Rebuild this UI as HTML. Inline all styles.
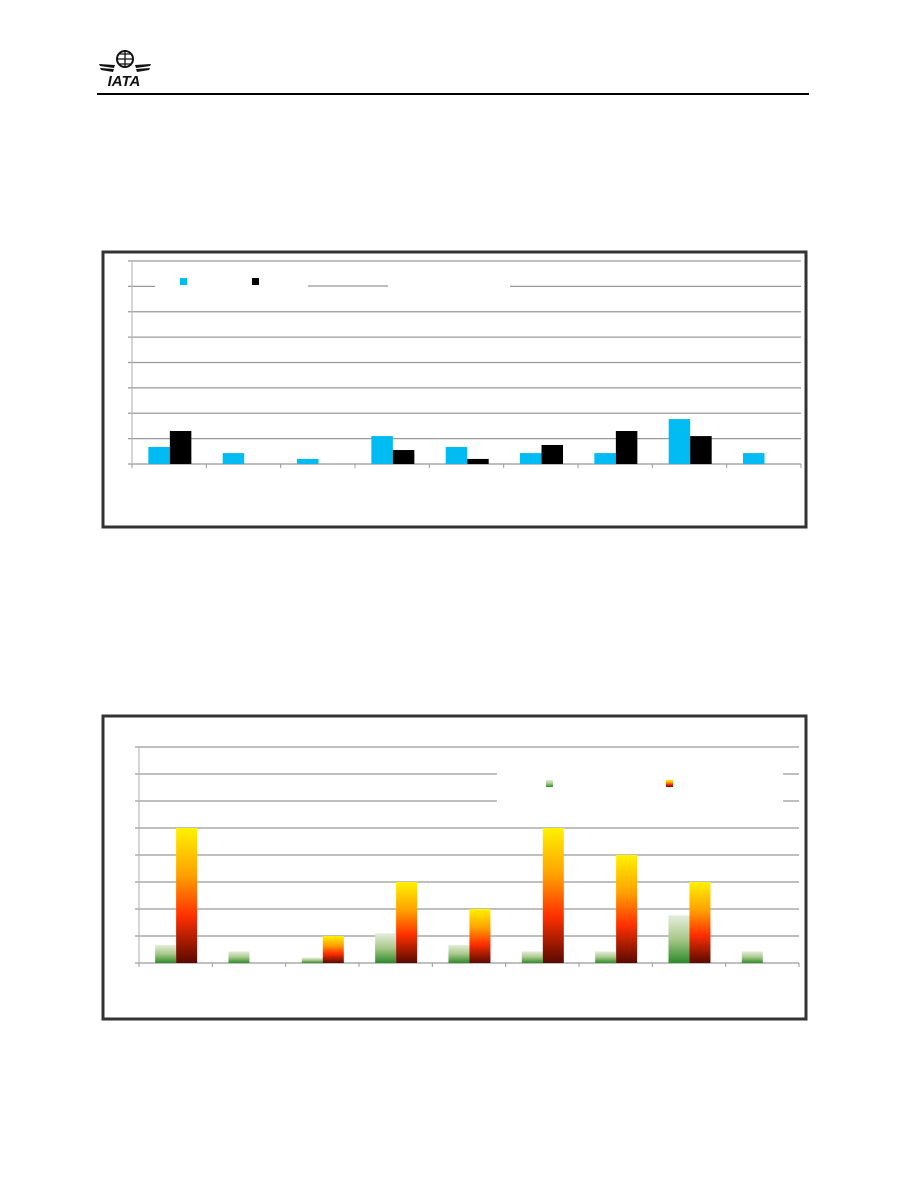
<!DOCTYPE html>
<html><head><meta charset="utf-8"><style>
body{margin:0;background:#fff;font-family:"Liberation Sans",sans-serif;}
#page{position:relative;width:918px;height:1188px;overflow:hidden;}
</style></head><body>
<div id="page">
<svg width="918" height="1188" style="position:absolute;left:0;top:0">
<defs>
<linearGradient id="gGreen" x1="0" y1="0" x2="0" y2="1"><stop offset="0" stop-color="#e4eedb"/><stop offset="0.5" stop-color="#a8c88a"/><stop offset="1" stop-color="#2e8a2a"/></linearGradient>
<linearGradient id="gFire" x1="0" y1="0" x2="0" y2="1"><stop offset="0" stop-color="#fff200"/><stop offset="0.35" stop-color="#ffa000"/><stop offset="0.65" stop-color="#ff3000"/><stop offset="1" stop-color="#5a0a00"/></linearGradient>
</defs>
<g>
<circle cx="125" cy="59" r="8" fill="none" stroke="#111" stroke-width="2"/>
<path d="M117 59h16M125 51v16M119 54h12M119 64h12" stroke="#111" stroke-width="1.3"/>
<path d="M99 64l16 1-1 3-14-2zM100 68l14 1-1 3-12-2zM151 64l-16 1 1 3 14-2zM150 68l-14 1 1 3 12-2z" fill="#111"/>
<text x="124" y="86" text-anchor="middle" font-size="15" font-weight="bold" font-style="italic" fill="#111">IATA</text>
</g>
<rect x="97" y="93" width="712" height="2" fill="#000"/>
<g id="c1"></g>
<g id="c2"></g>
</svg>
</div>
<script>
const categories=["1","2","3","4","5","6","7","8","9"];
const seriesA=[0.67,0.43,0.2,1.1,0.67,0.43,0.43,1.77,0.43];
const seriesB=[1.3,0,0,0.55,0.2,0.75,1.3,1.1,0];
const seriesC=[0.67,0.43,0.2,1.1,0.67,0.43,0.43,1.77,0.43];
const seriesD=[5,0,1,3,2,5,4,3,0];
const yTicks=[0,1,2,3,4,5,6,7,8];
const NS="http://www.w3.org/2000/svg";
function mk(p,t,a){const e=document.createElementNS(NS,t);for(const k in a)e.setAttribute(k,a[k]);p.appendChild(e);return e;}
function chart(g,cfg){
  const fr=mk(g,'rect',{x:cfg.fx,y:cfg.fy,width:cfg.fw,height:cfg.fh,fill:'#fff',stroke:'#333',"stroke-width":3});
  
  
  const y=v=>cfg.base-(v/8)*(cfg.base-cfg.top);
  const cw=(cfg.right-cfg.x0)/categories.length;
  const x=i=>cfg.x0+i*cw;
  yTicks.forEach(t=>{const l=mk(g,'line',{x1:cfg.x0-4,x2:cfg.right,y1:y(t),y2:y(t),stroke:'#999',"stroke-width":1.2});
    
    });
  const ax=mk(g,'line',{x1:cfg.x0,x2:cfg.x0,y1:cfg.top,y2:cfg.base,stroke:'#bbb',"stroke-width":1.2});
  
  
  for(let i=0;i<=categories.length;i++){const tk=mk(g,'line',{x1:x(i),x2:x(i),y1:cfg.base,y2:cfg.base+4,stroke:'#999'});
    
    }
  const lg=mk(g,'rect',cfg.legendBox);
  
  
  cfg.legendMarks.forEach(m=>{const r=mk(g,'rect',{x:m[0],y:m[1],width:7,height:7,fill:m[2]});
    
    });
  categories.forEach((c,i)=>{
    [[cfg.s1,cfg.c1,0],[cfg.s2,cfg.c2,1]].forEach(([s,col,k])=>{
      if(s[i]<=0)return;
      const bx=x(i)+cw*0.22+k*cfg.bw;
      const r=mk(g,'rect',{x:bx,y:y(s[i]),width:cfg.bw,height:cfg.base-y(s[i]),fill:col});
      
      
    });
  });
}
chart(document.getElementById('c1'),{fx:103,fy:252,fw:703,fh:275,x0:132,right:801,top:261,base:464,bw:21.5,
  s1:seriesA,s2:seriesB,c1:'#00bcf2',c2:'#000',
  legendBox:{x:155,y:272,width:355,height:22,fill:'#fff'},
  legendMarks:[[180,278,'#00bcf2'],[252,278,'#000']]});
// restore gridline segment visible in legend area
const g1=document.getElementById('c1');
const seg=mk(g1,'line',{x1:308,x2:388,y1:286,y2:286,stroke:'#999',"stroke-width":1.2});


chart(document.getElementById('c2'),{fx:103,fy:716,fw:703,fh:303,x0:139,right:799,top:747,base:963,bw:21,
  s1:seriesC,s2:seriesD,c1:'url(#gGreen)',c2:'url(#gFire)',
  legendBox:{x:497,y:765,width:286,height:46,fill:'#fff'},
  legendMarks:[[546,780,'url(#gGreen)'],[666,780,'url(#gFire)']]});
</script>
</body></html>
